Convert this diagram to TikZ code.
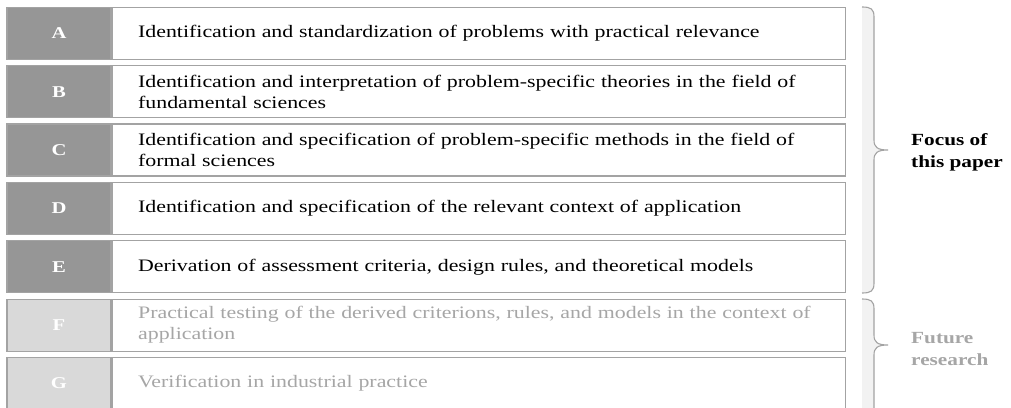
\documentclass[tikz,border=0pt]{standalone}
\usepackage{fontspec}
\setmainfont{Liberation Serif}[FakeStretch=1.25]
\usetikzlibrary{positioning}
\definecolor{darkcell}{HTML}{969696}
\definecolor{lightcell}{HTML}{D9D9D9}
\definecolor{linegray}{HTML}{A3A3A3}
\definecolor{fadetext}{HTML}{A6A6A6}
\definecolor{bracefill}{HTML}{F2F2F2}
\tikzset{
cell/.style={minimum width=104pt, minimum height=52pt, inner sep=0pt,
  draw=linegray, line width=1.1pt, text=white,
  font=\fontsize{16.5}{20}\selectfont\bfseries},
focuscell/.style={cell, fill=darkcell},
futurecell/.style={cell, fill=lightcell},
rowtext/.style={minimum height=52pt, text width=681pt, inner xsep=26pt,
  inner ysep=0pt, draw=linegray, line width=1.1pt, fill=white, align=left,
  font=\fontsize{17.5}{21}\selectfont},
futuretext/.style={rowtext, text=fadetext},
bracelabel/.style={anchor=west, align=left, inner sep=0pt,
  font=\fontsize{17}{22}\selectfont\bfseries},
bracedraw/.style={draw=linegray, line width=1.1pt}
}
\begin{document}
\begin{tikzpicture}[x=1pt,y=-1pt]
\useasboundingbox[fill=white] (0,0) rectangle (1011,407);
% phases of this paper
\node[focuscell] (la) at (59,33.3) {A};
\node[rowtext, right=0pt of la] (ta) {Identification and standardization of problems with practical relevance};
\node[focuscell] (lb) at (59,91.7) {B};
\node[rowtext, right=0pt of lb] (tb) {Identification and interpretation of problem-specific theories in the field of\\fundamental sciences};
\node[focuscell] (lc) at (59,150) {C};
\node[rowtext, right=0pt of lc] (tc) {Identification and specification of problem-specific methods in the field of\\formal sciences};
\node[focuscell] (ld) at (59,208.4) {D};
\node[rowtext, right=0pt of ld] (td) {Identification and specification of the relevant context of application};
\node[focuscell] (le) at (59,266.8) {E};
\node[rowtext, right=0pt of le] (te) {Derivation of assessment criteria, design rules, and theoretical models};
% future phases
\node[futurecell] (lf) at (59,325.1) {F};
\node[futuretext, right=0pt of lf] (tf) {Practical testing of the derived criterions, rules, and models in the context of\\application};
\node[futurecell] (lg) at (59,383.5) {G};
\node[futuretext, right=0pt of lg] (tg) {Verification in industrial practice};
% braces
\fill[bracefill] (862,7) .. controls (871,7) and (874,9) .. (874,17) -- (874,140)
  .. controls (874,147) and (877,150) .. (888,150) .. controls (877,150) and (874,153) .. (874,160)
  -- (874,283) .. controls (874,291) and (871,293) .. (862,293) -- cycle;
\draw[bracedraw] (862,7) .. controls (871,7) and (874,9) .. (874,17) -- (874,140)
  .. controls (874,147) and (877,150) .. (888,150) .. controls (877,150) and (874,153) .. (874,160)
  -- (874,283) .. controls (874,291) and (871,293) .. (862,293);
\fill[bracefill] (862,299) .. controls (871,299) and (874,301) .. (874,309) -- (874,335)
  .. controls (874,342) and (877,345) .. (888,345) .. controls (877,345) and (874,348) .. (874,355)
  -- (874,420) -- (862,420) -- cycle;
\draw[bracedraw] (862,299) .. controls (871,299) and (874,301) .. (874,309) -- (874,335)
  .. controls (874,342) and (877,345) .. (888,345) .. controls (877,345) and (874,348) .. (874,355)
  -- (874,420);
\node[bracelabel] (focus) at (911,152) {Focus of\\this paper};
\node[bracelabel, text=fadetext] (future) at (911,349) {Future\\research};
\end{tikzpicture}
\end{document}
